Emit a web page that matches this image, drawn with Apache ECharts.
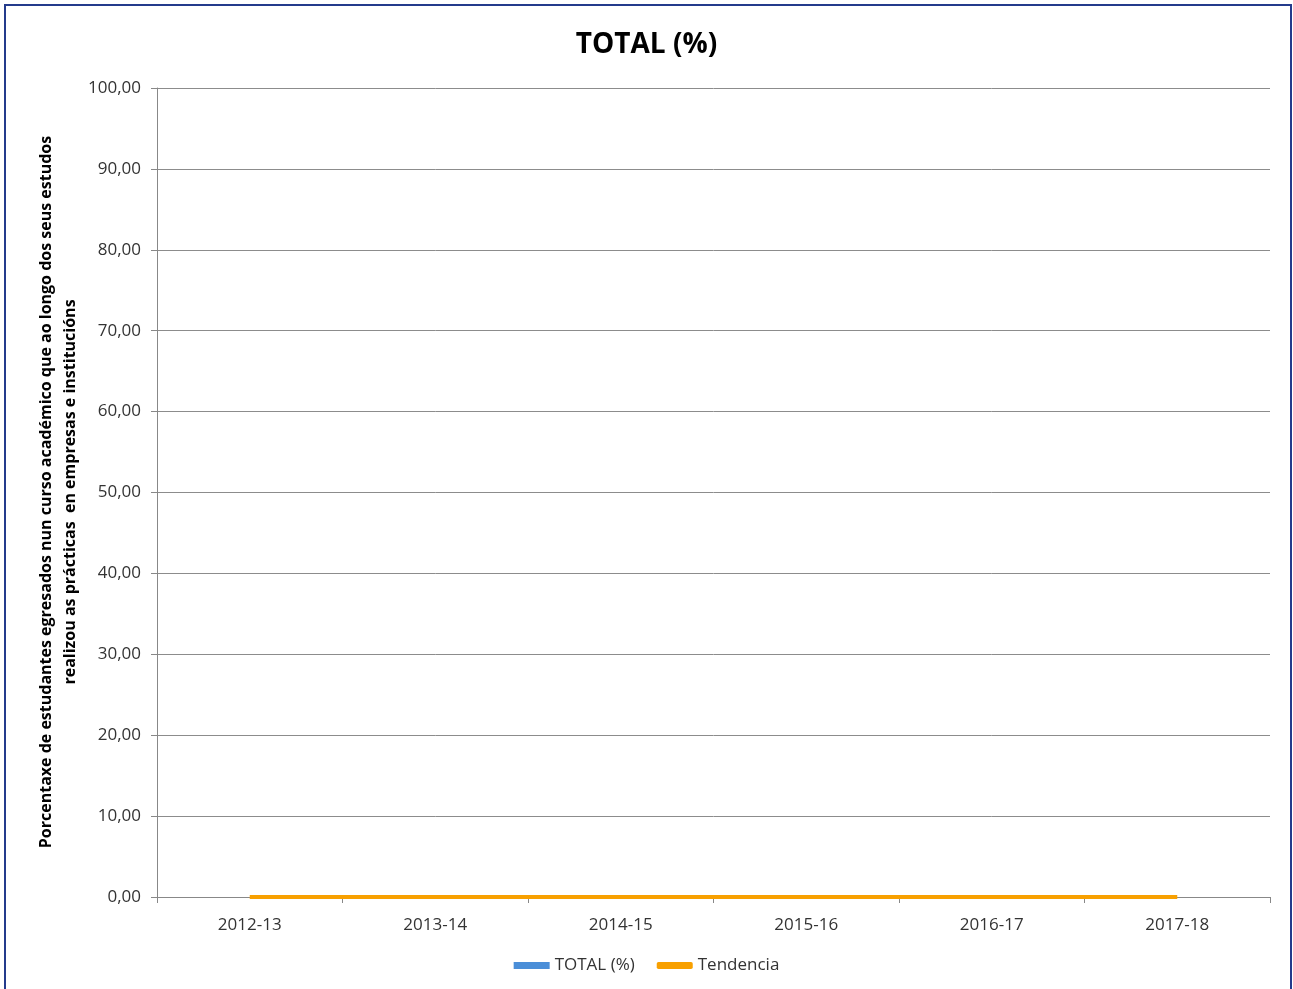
<!DOCTYPE html>
<html>
<head>
<meta charset="utf-8">
<script src="https://cdn.jsdelivr.net/npm/echarts@6/dist/echarts.min.js"></script>
<style>
html,body{margin:0;padding:0;background:#fff;}
#c{width:1293px;height:989px;}
</style>
</head>
<body>
<div id="c"></div>
<script>
const categories = ['2012-13','2013-14','2014-15','2015-16','2016-17','2017-18'];
const totalValues = [0,0,0,0,0,0];
const trendValues = [0,0,0,0,0,0];
const yTicks = {min:0, max:100, interval:10};
const yAxisTitle = 'Porcentaxe de estudantes egresados nun curso académico que ao longo dos seus estudos\nrealizou as prácticas  en empresas e institucións';

const chart = echarts.init(document.getElementById('c'));
const font = '"Open Sans", "Noto Sans", sans-serif';
chart.setOption({
  animation:false,
  backgroundColor:'#fff',
  title:{
    text:'TOTAL (%)', left:'center', top:26,
    textStyle:{fontSize:28, fontWeight:'bold', color:'#000', fontFamily:font}
  },
  graphic:[{
    type:'rect', shape:{x:5,y:5,width:1286,height:1000},
    style:{fill:'none', stroke:'#243b8c', lineWidth:2}, silent:true
  },{
    type:'text', x:58, y:492, rotation:Math.PI/2, silent:true,
    style:{text:yAxisTitle, fill:'#000', font:'bold 16px "Open Sans", sans-serif',
      align:'center', verticalAlign:'middle', lineHeight:24}
  }],
  legend:{
    bottom:10, left:'center', itemGap:22,
    textStyle:{fontSize:17, color:'#333', fontFamily:font},
    data:[
      {name:'TOTAL (%)', icon:'rect', itemStyle:{color:'#4a8ed8'}},
      {name:'Tendencia', icon:'roundRect', itemStyle:{color:'#f8a000'}}
    ],
    itemWidth:36, itemHeight:7
  },
  grid:{left:157, right:23, top:88, bottom:92, containLabel:false},
  xAxis:{
    type:'category', data:categories, boundaryGap:true,
    axisLine:{lineStyle:{color:'#888', width:1}},
    axisTick:{show:true, length:6, lineStyle:{color:'#888'}},
    axisLabel:{fontSize:17, color:'#333', margin:20, fontFamily:font}
  },
  yAxis:{
    type:'value', min:yTicks.min, max:yTicks.max, interval:yTicks.interval,
    axisLine:{show:true, lineStyle:{color:'#888'}},
    axisTick:{show:true, length:6, lineStyle:{color:'#888'}},
    splitLine:{lineStyle:{color:'#8c8c8c', width:1}},
    axisLabel:{fontSize:17, color:'#333', margin:16, fontFamily:font,
      formatter:v=>v.toFixed(2).replace('.',',')}
  },
  series:[
    {name:'TOTAL (%)', type:'bar', data:totalValues, barWidth:'42%', itemStyle:{color:'#4a8ed8'}},
    {name:'Tendencia', type:'line', data:trendValues, showSymbol:false, symbol:'none',
      lineStyle:{color:'#f8a000', width:4}, itemStyle:{color:'#f8a000'}}
  ]
});
</script>
</body>
</html>
